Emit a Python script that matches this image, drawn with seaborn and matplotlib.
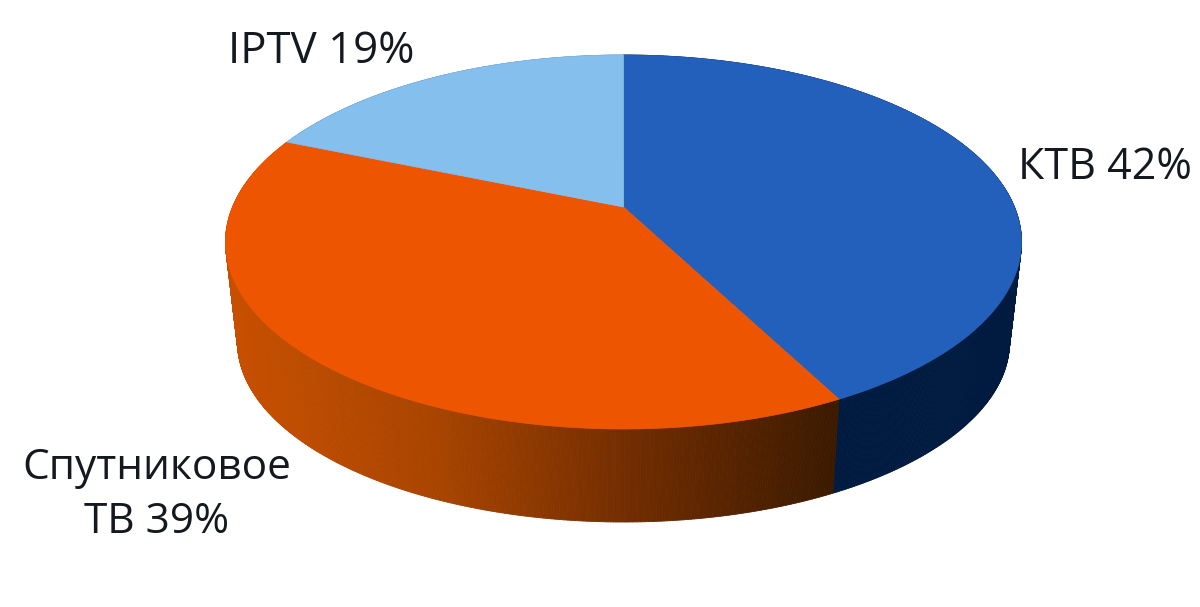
import numpy as np
import seaborn as sns
import matplotlib.pyplot as plt
from matplotlib.collections import PolyCollection

categories = ["КТВ", "Спутниковое\nТВ", "IPTV"]
shares = [42.4, 38.9, 18.7]

TOP_COLORS = ["#2360BC", "#EE5500", "#85BFEE"]
WALL_BLUE = ["#001A40", "#001A40"]
WALL_ORANGE = ["#C64F00", "#A84400", "#702C00", "#3C1A00"]
WALL_LIGHT = ["#4A7AA5", "#4A7AA5"]

# ellipse of the top face and of the lower rim, in picture pixels
TOP = dict(cx=623.5, cy=242, rx=398, ry=187, apex=35)
BOTTOM = dict(cx=623.5, cy=342, rx=386, ry=180, apex=34)


def project(theta, r, ell):
    """Perspective map of the unit disc on to a tilted ellipse."""
    u = r * np.cos(np.radians(theta))
    v = r * np.sin(np.radians(theta))
    c = ell["apex"] / ell["ry"]
    w = 1 + c * v
    x = ell["rx"] * np.sqrt(1 - c ** 2) * u / w
    y = (ell["ry"] * v + ell["apex"]) / w
    return ell["cx"] + x, ell["cy"] - y


sns.set_theme(style="white")
plt.rcParams["font.family"] = ["Open Sans", "DejaVu Sans"]

fig = plt.figure(figsize=(12, 6.07), dpi=100)
ax = fig.add_axes([0, 0, 1, 1])
wedges, _ = ax.pie(shares, startangle=90, counterclock=False, colors=TOP_COLORS)
angles = [(w.theta1, w.theta2) for w in wedges]
for w in wedges:
    w.remove()
ax.set_aspect("auto")
ax.set_xlim(0, 1200)
ax.set_ylim(607, 0)
ax.axis("off")

# side wall first, the top face covers whatever is behind it
walls = [WALL_BLUE, WALL_ORANGE, WALL_LIGHT]
for (t1, t2), wall in zip(angles, walls):
    cmap = sns.blend_palette(wall, as_cmap=True)
    theta = np.linspace(t1, t2, int((t2 - t1) * 3) + 2)
    xt, yt = project(theta, 1, TOP)
    xb, yb = project(theta, 1, BOTTOM)
    quads = []
    shades = []
    for i in range(len(theta) - 1):
        quads.append([(xt[i], yt[i]), (xt[i + 1], yt[i + 1]),
                      (xb[i + 1], yb[i + 1]), (xb[i], yb[i])])
        shades.append(cmap(np.clip((xt[i] - 235) / 600, 0, 1)))
    ax.add_collection(PolyCollection(quads, facecolors=shades, edgecolors=shades,
                                     linewidths=0.6, zorder=1))

for (t1, t2), color in zip(angles, TOP_COLORS):
    theta = np.linspace(t1, t2, 300)
    x, y = project(theta, 1, TOP)
    x0, y0 = project(np.array([0.0]), 0, TOP)
    ax.fill(np.r_[x0, x], np.r_[y0, y], color=color, lw=0.5, zorder=2)

labels = [f"{c} {s:.0f}%" for c, s in zip(categories, shares)]
text_color = "#14181F"
ax.text(1018, 179, labels[0], fontsize=31, color=text_color, ha="left", va="baseline")
ax.text(157, 533, labels[1], fontsize=30.5, color=text_color, ha="center", va="baseline",
        multialignment="center", linespacing=1.38)
ax.text(228, 63, labels[2], fontsize=31.5, color=text_color, ha="left", va="baseline")

fig.savefig("out.png", dpi=100)
